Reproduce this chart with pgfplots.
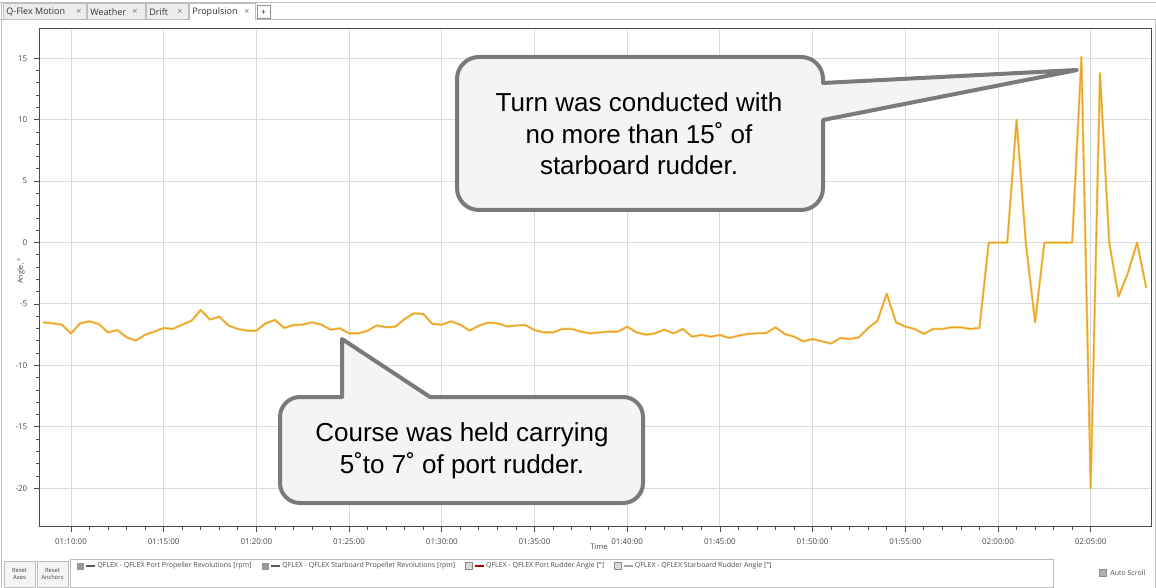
\documentclass[border=0pt]{standalone}
\usepackage{pgfplots}
\pgfplotsset{compat=1.18}
\usepackage{pgfplotstable}
\usepackage{fontspec}
\setmainfont{Liberation Sans}
\newfontfamily\ui{Open Sans}
\usetikzlibrary{calc}
\definecolor{rud}{RGB}{236,162,46}
\definecolor{rudlight}{RGB}{246,214,120}
\definecolor{cbord}{RGB}{122,122,122}
\definecolor{cfill}{RGB}{244,244,244}
\definecolor{gridc}{RGB}{218,218,218}
\definecolor{tabbg}{RGB}{236,236,236}
\definecolor{uiline}{RGB}{190,190,190}
\definecolor{lbl}{RGB}{70,70,70}

\pgfplotstableread{
t v
8.5 -6.49
9.0 -6.57
9.5 -6.68
10.0 -7.39
10.5 -6.57
11.0 -6.41
11.5 -6.63
12.0 -7.31
12.5 -7.12
13.0 -7.71
13.5 -7.98
14.0 -7.50
14.5 -7.25
15.0 -6.95
15.5 -7.03
16.0 -6.68
16.5 -6.36
17.0 -5.49
17.5 -6.27
18.0 -6.03
18.5 -6.76
19.0 -7.03
19.5 -7.17
20.0 -7.17
20.5 -6.57
21.0 -6.30
21.5 -6.95
22.0 -6.71
22.5 -6.68
23.0 -6.49
23.5 -6.68
24.0 -7.09
24.5 -6.98
25.0 -7.39
25.5 -7.39
26.0 -7.17
26.5 -6.74
27.0 -6.90
27.5 -6.84
28.0 -6.22
28.5 -5.76
29.0 -5.81
29.5 -6.63
30.0 -6.68
30.5 -6.41
31.0 -6.68
31.5 -7.17
32.0 -6.76
32.5 -6.52
33.0 -6.57
33.5 -6.82
34.0 -6.76
34.5 -6.71
35.0 -7.12
35.5 -7.31
36.0 -7.31
36.5 -7.03
37.0 -7.03
37.5 -7.25
38.0 -7.39
38.5 -7.31
39.0 -7.25
39.5 -7.25
40.0 -6.84
40.5 -7.31
41.0 -7.50
41.5 -7.39
42.0 -7.09
42.5 -7.39
43.0 -7.03
43.5 -7.66
44.0 -7.52
44.5 -7.66
45.0 -7.52
45.5 -7.77
46.0 -7.58
46.5 -7.44
47.0 -7.39
47.5 -7.36
48.0 -6.90
48.5 -7.44
49.0 -7.66
49.5 -8.04
50.0 -7.85
50.5 -8.04
51.0 -8.22
51.5 -7.77
52.0 -7.85
52.5 -7.71
53.0 -6.95
53.5 -6.36
54.0 -4.15
54.5 -6.49
55.0 -6.84
55.5 -7.03
56.0 -7.44
56.5 -7.03
57.0 -7.03
57.5 -6.90
58.0 -6.90
58.5 -7.03
59.0 -6.95
59.5 0
60.0 0
60.5 0
61.0 10
61.5 0
62.0 -6.5
62.5 0
63.0 0
63.5 0
64.0 0
64.5 15.1
65.0 -20
65.5 13.8
66.0 0
66.5 -4.4
67.0 -2.5
67.5 0
68.0 -3.7
}\rudder

\begin{document}
\begin{tikzpicture}
% ---------- window chrome (pixel coordinates, y down) ----------
\begin{scope}[x=0.5pt,y=-0.5pt]
\path[use as bounding box, fill=white] (0,0) rectangle (1156,588);
\draw[uiline, line width=0.5pt] (0,3) -- (1156,3);
\draw[uiline, line width=0.5pt] (0,20) -- (189,20) (255,20) -- (1156,20);
\draw[uiline, line width=0.5pt] (1.5,3) -- (1.5,588);
\draw[uiline, line width=0.5pt] (1155,20) -- (1155,588);
\filldraw[fill=tabbg, draw=uiline, line width=0.5pt] (3,4) rectangle (86,20);
\filldraw[fill=tabbg, draw=uiline, line width=0.5pt] (87,4) rectangle (145,20);
\filldraw[fill=tabbg, draw=uiline, line width=0.5pt] (146,4) rectangle (188,20);
\draw[uiline, line width=0.5pt] (189,20) -- (189,4) -- (255,4) -- (255,20);
\filldraw[fill=white, draw=black!45, line width=0.5pt] (257,6) rectangle (270,19);
\begin{scope}[every node/.style={font=\ui\fontsize{4.5}{5}\selectfont, text=black!80, inner sep=0pt}]
\node[anchor=west] at (6,12) {Q-Flex Motion};
\node[anchor=west] at (90,12) {Weather};
\node[anchor=west] at (149,12) {Drift};
\node[anchor=west] at (192,12) {Propulsion};
\node[text=black!55] at (79,12) {×};
\node[text=black!55] at (135,12) {×};
\node[text=black!55] at (180,12) {×};
\node[text=black!55] at (247,12) {×};
\node at (263.5,12.5) {+};
\end{scope}
\end{scope}

% ---------- the chart ----------
\begin{axis}[
  at={(19.65pt,-263.25pt)}, anchor=south west,
  scale only axis, width=556.2pt, height=249.1pt,
  xmin=8.29, xmax=68.29, ymin=-23.11, ymax=17.44,
  xtick={10,15,...,65},
  xticklabels={01:10:00,01:15:00,01:20:00,01:25:00,01:30:00,01:35:00,01:40:00,01:45:00,01:50:00,01:55:00,02:00:00,02:05:00},
  ytick={-20,-15,...,15},
  yticklabels={-20,-15,-10,-5,0,5,10,15},
  minor x tick num=4, minor y tick num=4,
  xtick pos=bottom, ytick pos=left,
  grid=major, major grid style={gridc, line width=0.5pt},
  tick align=outside, major tick length=2.5pt, minor tick length=1.5pt,
  tick style={black!70, line width=0.4pt},
  axis line style={black!70, line width=0.6pt},
  ticklabel style={font=\ui\fontsize{4}{5}\selectfont, text=lbl},
]
\addplot[rudlight, line width=1.2pt, line join=round] table[x=t,y=v] {\rudder};
\addplot[rud, line width=0.65pt, line join=round] table[x=t,y=v] {\rudder};
\end{axis}

% ---------- annotations and bottom bar ----------
\begin{scope}[x=0.5pt,y=-0.5pt]
\node[rotate=90, font=\ui\fontsize{3.6}{4}\selectfont, text=lbl] at (21,271) {Angle, °};
\node[font=\ui\fontsize{3.8}{4}\selectfont, text=lbl] at (599,547) {Time};

% callout 1
\filldraw[fill=cfill, draw=cbord, line width=2pt, line join=round]
  (479,57) -- (801,57) arc[start angle=-90, end angle=0, radius=22]
  -- (823,83) -- (1077,70) -- (823,120)
  -- (823,188) arc[start angle=0, end angle=90, radius=22]
  -- (479,210) arc[start angle=90, end angle=180, radius=22]
  -- (457,79) arc[start angle=180, end angle=270, radius=22] -- cycle;
\node[align=center, font=\fontsize{13}{15.7}\selectfont, inner sep=0pt] at (639,134)
  {Turn was conducted with\\no more than 15˚ of\\starboard rudder.};

% callout 2
\filldraw[fill=cfill, draw=cbord, line width=2pt, line join=round]
  (300,397) -- (342,397) -- (342,339) -- (430,397)
  -- (623,397) arc[start angle=-90, end angle=0, radius=20]
  -- (643,483) arc[start angle=0, end angle=90, radius=20]
  -- (300,503) arc[start angle=90, end angle=180, radius=20]
  -- (280,417) arc[start angle=180, end angle=270, radius=20] -- cycle;
\node[align=center, font=\fontsize{13}{15.9}\selectfont, inner sep=0pt] at (462,451)
  {Course was held carrying\\5˚to 7˚ of port rudder.};

% bottom buttons
\filldraw[fill=tabbg!60, draw=uiline, line width=0.5pt] (4,561) rectangle (35,587);
\filldraw[fill=tabbg!60, draw=uiline, line width=0.5pt] (37,561) rectangle (68,587);
\node[align=center, font=\ui\fontsize{2.9}{3.5}\selectfont, text=black!75] at (19.5,574) {Reset\\Axes};
\node[align=center, font=\ui\fontsize{2.9}{3.5}\selectfont, text=black!75] at (52.5,574) {Reset\\Anchors};
\filldraw[fill=white, draw=uiline, line width=0.5pt] (70,559) rectangle (1053,587);

\begin{scope}[every node/.style={font=\ui\fontsize{3.5}{4}\selectfont, text=black!70, inner sep=0pt, anchor=west}]
\node (l1) at (97,566) {QFLEX - QFLEX Port Propeller Revolutions [rpm]};
\fill[black!40] ($(l1.west)+(-20,-3.5)$) rectangle ++(7,7);
\draw[black!65, line width=0.6pt] ($(l1.west)+(-11,0)$) -- ++(9,0);
\node (l2) at ($(l1.east)+(30,0)$) {QFLEX - QFLEX Starboard Propeller Revolutions [rpm]};
\fill[black!40] ($(l2.west)+(-20,-3.5)$) rectangle ++(7,7);
\draw[black!65, line width=0.6pt] ($(l2.west)+(-11,0)$) -- ++(9,0);
\node (l3) at ($(l2.east)+(30,0)$) {QFLEX - QFLEX Port Rudder Angle [°]};
\filldraw[fill=black!15, draw=black!45, line width=0.4pt] ($(l3.west)+(-20,-3.5)$) rectangle ++(7,7);
\draw[red!70!black, line width=0.6pt] ($(l3.west)+(-11,0)$) -- ++(9,0);
\node (l4) at ($(l3.east)+(30,0)$) {QFLEX - QFLEX Starboard Rudder Angle [°]};
\filldraw[fill=black!15, draw=black!45, line width=0.4pt] ($(l4.west)+(-20,-3.5)$) rectangle ++(7,7);
\draw[black!35, line width=0.6pt] ($(l4.west)+(-11,0)$) -- ++(9,0);
\node at (1110,573) {Auto Scroll};
\end{scope}
\filldraw[fill=black!30, draw=black!45, line width=0.4pt] (1099,569.5) rectangle (1106,576.5);
\end{scope}
\end{tikzpicture}
\end{document}
